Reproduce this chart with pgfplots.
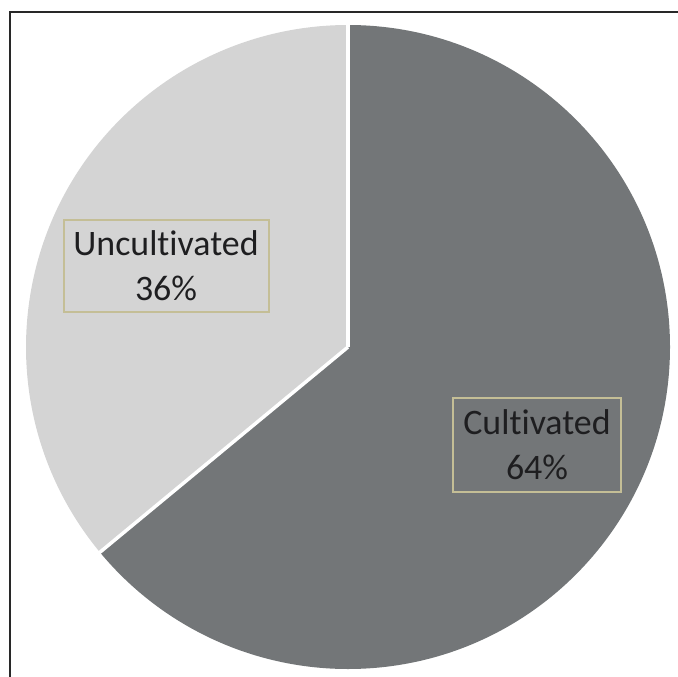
\documentclass[border=0pt]{standalone}
\usepackage{pgfplots}
\pgfplotsset{compat=1.18}
\usepackage{fontspec}
\setmainfont{Carlito}[Ligatures={NoCommon}]
\definecolor{darkslice}{RGB}{115,118,120}
\definecolor{lightslice}{RGB}{212,212,212}
\definecolor{boxline}{RGB}{196,190,150}
\definecolor{txt}{RGB}{30,30,32}
\definecolor{frame}{RGB}{40,40,40}
\def\cultivated{64}
\def\uncultivated{36}
\begin{document}
\begin{tikzpicture}
\begin{axis}[
  scale only axis, width=678bp, height=677bp,
  xmin=0, xmax=678, ymin=0, ymax=677, y dir=reverse,
  hide axis, clip=false]
\pgfmathsetmacro{\endang}{90-3.6*\cultivated}
% Cultivated slice
\fill[darkslice] (axis cs:348,347) -- ++(90:322bp) arc[start angle=90, end angle=\endang, radius=322bp] -- cycle;
% Uncultivated slice
\fill[lightslice] (axis cs:348,347) -- ++(\endang:322bp) arc[start angle=\endang, end angle=-270, radius=322bp] -- cycle;
% separators
\draw[white, line width=4bp] (axis cs:348,347) -- ++(90:323bp);
\draw[white, line width=3.5bp] (axis cs:348,347) -- ++(\endang:323bp);
% frame
\draw[frame, line width=1.5bp] (axis cs:10,677) -- (axis cs:10,12) -- (axis cs:678,12);
% labels
\node[draw=boxline, line width=2bp, fill=lightslice, text=txt, minimum width=205bp, minimum height=92bp, align=center, font=\fontsize{36}{45}\selectfont, inner sep=0pt] at (axis cs:166,266) {Uncultivated\\\uncultivated\%};
\node[draw=boxline, line width=2bp, fill=darkslice, text=txt, minimum width=168bp, minimum height=94bp, align=center, font=\fontsize{36}{45}\selectfont, inner sep=0pt] at (axis cs:537,445) {Cultivated\\\cultivated\%};
\end{axis}
\pgfresetboundingbox
\path[use as bounding box] (current axis.south west) rectangle (current axis.north east);
\end{tikzpicture}
\end{document}
